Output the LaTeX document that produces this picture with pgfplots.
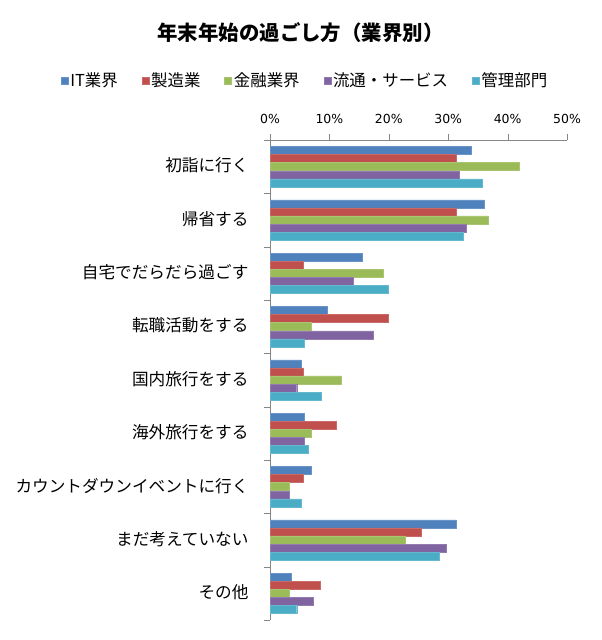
\documentclass[border=0pt]{standalone}
\usepackage{fontspec}
\setmainfont{Noto Sans CJK JP}
\newfontfamily\tickfont{DejaVu Sans}
\usepackage{pgfplots}
\pgfplotsset{compat=1.18}
\definecolor{cIT}{HTML}{4F81BD}
\definecolor{cMF}{HTML}{C0504D}
\definecolor{cFI}{HTML}{9BBB59}
\definecolor{cRT}{HTML}{8064A2}
\definecolor{cAD}{HTML}{4BACC6}
\definecolor{axgray}{HTML}{868686}
\begin{document}
\begin{tikzpicture}
\path (0bp,0bp) rectangle (602bp,640bp);
\node[font=\fontsize{20.5}{24}\selectfont\bfseries] at (300.5bp,607bp) {年末年始の過ごし方（業界別）};
\begin{axis}[
  at={(270bp,500bp)}, anchor=north west,
  scale only axis, width=297bp, height=480bp,
  xmin=0, xmax=50, ymin=0.5, ymax=9.5,
  axis x line*=top, axis y line*=left,
  axis line style={draw=axgray},
  tick style={draw=axgray},
  tick align=outside,
  major tick length=6bp, minor tick length=6bp,
  xtick={0,10,...,50},
  xticklabel={\pgfmathprintnumber{\tick}\%},
  /pgf/number format/assume math mode=true,
  xticklabel style={font=\tickfont\fontsize{12.5}{14}\selectfont, yshift=7bp},
  ytick={1,...,9},
  yticklabels={その他, まだ考えていない, カウントダウンイベントに行く, 海外旅行をする, 国内旅行をする, 転職活動をする, 自宅でだらだら過ごす, 帰省する, 初詣に行く},
  yticklabel style={font=\fontsize{16.7}{18}\selectfont, xshift=-12bp, yshift=1bp},
  major y tick style={draw=none},
  minor ytick={0.5,1.5,...,9.5},
  legend style={at={(0.118,1.125)}, anchor=center, draw=none, fill=none,
    font=\fontsize{16.5}{18}\selectfont,
    /tikz/every even column/.append style={column sep=22bp}},
  legend columns=5,
  legend cell align=left,
  legend image code/.code={\fill[#1] (0bp,-4bp) rectangle (7bp,3bp);},
]
\addplot[xbar, bar width=8bp, bar shift=16.2bp, fill=cIT, draw=cIT!85!white]
  coordinates {(33.9,9) (36.0,8) (15.5,7) (9.7,6) (5.2,5) (5.8,4) (6.9,3) (31.3,2) (3.6,1)};
\addlegendentry{IT業界}
\addplot[xbar, bar width=8bp, bar shift=8.1bp, fill=cMF, draw=cMF!85!white]
  coordinates {(31.4,9) (31.4,8) (5.6,7) (19.9,6) (5.6,5) (11.1,4) (5.6,3) (25.5,2) (8.4,1)};
\addlegendentry{製造業}
\addplot[xbar, bar width=8bp, bar shift=0bp, fill=cFI, draw=cFI!85!white]
  coordinates {(42.0,9) (36.7,8) (19.1,7) (6.9,6) (12.0,5) (6.9,4) (3.2,3) (22.7,2) (3.2,1)};
\addlegendentry{金融業界}
\addplot[xbar, bar width=8bp, bar shift=-8.1bp, fill=cRT, draw=cRT!85!white]
  coordinates {(31.8,9) (33.1,8) (14.0,7) (17.4,6) (4.5,5) (5.8,4) (3.2,3) (29.6,2) (7.3,1)};
\addlegendentry{流通・サービス}
\addplot[xbar, bar width=8bp, bar shift=-16.2bp, fill=cAD, draw=cAD!85!white]
  coordinates {(35.7,9) (32.6,8) (19.9,7) (5.8,6) (8.6,5) (6.5,4) (5.2,3) (28.5,2) (4.5,1)};
\addlegendentry{管理部門}
\end{axis}
\end{tikzpicture}
\end{document}
